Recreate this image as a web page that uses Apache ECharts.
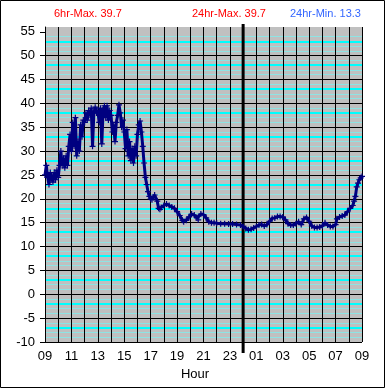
<!DOCTYPE html>
<html><head><meta charset="utf-8">
<script src="https://cdn.jsdelivr.net/npm/echarts@6/dist/echarts.min.js"></script>
<style>html,body{margin:0;padding:0;background:#fff}#c{width:385px;height:388px}</style>
</head><body><div id="c"></div>
<script>
// hours elapsed since 09:00
const hours = [
0.0,0.1,0.2,0.3,0.4,0.5,0.6,0.7,0.8,0.9,
1.0,1.1,1.2,1.3,1.4,1.5,1.6,1.7,1.8,1.9,
2.0,2.1,2.2,2.3,2.4,2.5,2.6,2.7,2.8,2.9,
3.0,3.1,3.2,3.3,3.4,3.5,3.6,3.7,3.8,3.9,
4.0,4.1,4.2,4.3,4.4,4.5,4.6,4.7,4.8,4.9,
5.0,5.1,5.2,5.3,5.4,5.5,5.6,5.7,5.8,5.9,
6.0,6.1,6.2,6.3,6.4,6.5,6.6,6.7,6.8,6.9,
7.0,7.1,7.2,7.3,7.4,7.5,7.6,7.7,7.8,7.9,
8.0,8.1,8.2,8.3,8.5,8.6,8.7,8.8,9.0,9.2,
9.4,9.6,9.8,10.0,10.2,10.4,10.5,10.7,10.9,11.1,
11.3,11.5,11.6,11.8,12.0,12.2,12.4,12.6,12.8,13.0,
13.3,13.6,13.9,14.2,14.5,14.8,15.0,15.2,15.4,15.6,
15.8,16.0,16.2,16.4,16.6,16.8,17.0,17.2,17.4,17.6,
17.8,18.0,18.2,18.4,18.6,18.8,19.0,19.2,19.4,19.6,
19.8,20.0,20.2,20.4,20.6,20.8,21.0,21.2,21.4,21.6,
21.8,22.0,22.1,22.3,22.5,22.7,22.9,23.1,23.3,23.4,
23.5,23.6,23.7,23.8,23.9,24.0
];
const temps = [
25,27,24.5,23,25.5,24.5,23.5,25.5,24,26,
24.5,27,30,27,28.5,26.5,29,27,31,33.5,
30,36,31,37,29,32,30,35.5,33,36.5,
36,38,36.5,38.5,37.5,39,31,38,39.2,38,
38.5,36,39,31.5,38.5,39.5,37,39.5,36.5,38.5,
37.5,34,35.5,32,36,37.5,39.7,38,35,36.5,
34,30.5,34.5,29,32,28,30.5,27.5,31,29,
33.5,35.5,36.3,34,31,27.5,24.5,23,21.5,20.5,
20,19.8,20.3,20.8,19.5,18.0,17.8,18.2,18.6,18.9,
18.6,18.3,18.0,17.3,16.5,15.5,15.2,15.5,16.2,16.8,
16.6,16.0,15.6,16.8,16.7,16.0,15.2,15.0,15.0,14.9,
14.8,14.8,14.7,14.7,14.6,14.5,14.2,13.8,13.5,13.6,
13.9,14.2,14.5,14.6,14.3,14.6,15.3,15.9,16.0,16.3,
16.3,16.2,15.6,14.8,14.5,14.5,14.8,15.2,14.6,15.8,
16.1,15.3,14.3,14.0,14.0,14.1,14.3,15.0,14.5,14.2,
14.2,14.6,15.8,16.2,16.4,16.6,17.3,18.0,18.6,19.5,
20.5,22.5,23.3,24.0,24.4,24.7
];
const xTickHours = [0,2,4,6,8,10,12,14,16,18,20,22,24];
const yTickValues = [-10,-5,0,5,10,15,20,25,30,35,40,45,50,55];
const headerLabels = ['6hr-Max. 39.7', '24hr-Max. 39.7', '24hr-Min. 13.3'];
const startHour = 9;
const midnightHour = 15;

(function () {
const FONT = '"Liberation Sans", Arial, sans-serif';
const chart = echarts.init(document.getElementById('c'), null, {renderer: 'canvas'});
const seriesData = hours.map((h, i) => [h, temps[i]]);
const plusSym = 'path://M2,0L3,0L3,2L5,2L5,3L3,3L3,5L2,5L2,3L0,3L0,2L2,2Z';

const yBase = {type: 'value', min: -10, max: 56, position: 'left'};
const xBase = {type: 'value', min: 0, max: 24, position: 'bottom'};
chart.setOption({
  backgroundColor: '#ffffff',
  animation: false,
  grid: {left: 45, right: 23, top: 27, bottom: 46, show: true, backgroundColor: '#c0c0c0', borderWidth: 0},
  xAxis: [
    Object.assign({}, xBase, {
      interval: 1,
      axisLine: {show: false}, axisTick: {show: false}, axisLabel: {show: false},
      splitLine: {show: true, lineStyle: {color: '#000', width: 1}}
    }),
    Object.assign({}, xBase, {
      interval: 2,
      axisLine: {show: true, lineStyle: {color: '#000', width: 1}},
      axisTick: {show: true, length: 5, lineStyle: {color: '#000'}},
      axisLabel: {show: true, margin: 8, color: '#000', fontSize: 13, fontFamily: FONT,
        formatter: v => String((v + startHour) % 24).padStart(2, '0')},
      splitLine: {show: false}
    })
  ],
  yAxis: [
    Object.assign({}, yBase, {
      interval: 5,
      axisLine: {show: true, lineStyle: {color: '#000'}},
      axisTick: {show: true, length: 5, customValues: yTickValues, lineStyle: {color: '#000'}},
      axisLabel: {show: true, customValues: yTickValues, margin: 10, color: '#000', fontSize: 13, fontFamily: FONT},
      splitLine: {show: true, showMaxLine: false, lineStyle: {color: '#000', width: 1}}
    }),
    Object.assign({}, yBase, {
      interval: 1,
      axisLine: {show: false}, axisTick: {show: false}, axisLabel: {show: false},
      splitLine: {show: true, showMaxLine: false, showMinLine: true, lineStyle: {width: 1,
        color: ['rgba(0,0,0,0)', '#8ee4e4', '#8ee4e4', 'rgba(0,0,0,0)', '#8ee4e4']}}
    }),
    Object.assign({}, yBase, {
      interval: 1,
      axisLine: {show: false}, axisTick: {show: false}, axisLabel: {show: false},
      splitLine: {show: true, showMaxLine: false, showMinLine: true, lineStyle: {width: 2,
        color: ['rgba(0,0,0,0)', 'rgba(0,0,0,0)', 'rgba(0,0,0,0)', '#00ffff', 'rgba(0,0,0,0)']}}
    })
  ],
  series: [{
    type: 'line', xAxisIndex: 0, yAxisIndex: 0, data: seriesData, z: 3,
    symbol: plusSym, symbolSize: 6, showAllSymbol: true,
    itemStyle: {color: '#000080'},
    lineStyle: {color: '#000080', width: 3},
    emphasis: {disabled: true}
  }]
});

const pTop = chart.convertToPixel({gridIndex: 0}, [midnightHour, 56]);
const pBot = chart.convertToPixel({gridIndex: 0}, [midnightHour, -10]);
const headerX = [54, 192, 290];
const headerColors = ['#ff0000', '#ff0000', '#3366ff'];
const graphics = [
  {type: 'rect', shape: {x: 0.5, y: 0.5, width: 384, height: 387}, style: {fill: 'none', stroke: '#000', lineWidth: 1}, z: 10},
  {type: 'line', shape: {x1: pTop[0], y1: pTop[1] - 3, x2: pBot[0], y2: pBot[1] + 11}, style: {stroke: '#000', lineWidth: 3}, z: 1},
  {type: 'text', x: 195, y: 374, style: {text: 'Hour', font: '13px ' + FONT, fill: '#000', align: 'center', verticalAlign: 'middle'}}
];
headerLabels.forEach((t, i) => graphics.push({type: 'text', x: headerX[i], y: 14,
  style: {text: t, font: '11px ' + FONT, fill: headerColors[i], align: 'left', verticalAlign: 'middle'}}));
chart.setOption({graphic: graphics});
})();
</script>
</body></html>
